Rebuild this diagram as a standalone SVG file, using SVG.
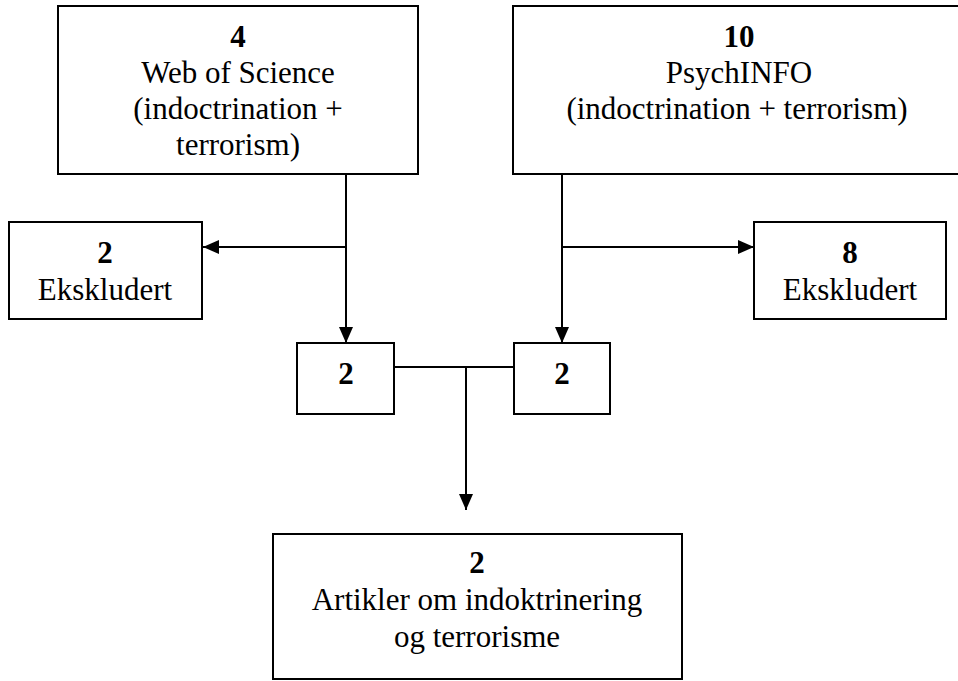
<svg xmlns="http://www.w3.org/2000/svg" width="958" height="681" viewBox="0 0 958 681" font-family="'Liberation Serif', 'Times New Roman', serif">
<defs>
<style>
.box{fill:#fff;stroke:#000;stroke-width:2}
.ln{fill:none;stroke:#000;stroke-width:2}
.t{font-family:'Liberation Serif','Times New Roman',serif;font-size:31px;fill:#000;text-anchor:middle}
.b{font-weight:bold}
</style>
<marker id="ah" markerWidth="16" markerHeight="14" refX="16" refY="7" orient="auto" markerUnits="userSpaceOnUse">
<path d="M0,0 L16,7 L0,14 Z" fill="#000"/>
</marker>
</defs>
<rect width="958" height="681" fill="#fff"/>
<g id="connectors">
<path class="ln" d="M346,174 V343" marker-end="url(#ah)"/>
<path class="ln" d="M346,247 H203" marker-end="url(#ah)"/>
<path class="ln" d="M562,174 V343" marker-end="url(#ah)"/>
<path class="ln" d="M562,247 H754" marker-end="url(#ah)"/>
<path class="ln" d="M394,367 H514"/>
<path class="ln" d="M466,367 V510" marker-end="url(#ah)"/>
</g>
<g id="wos">
<rect class="box" x="58" y="6" width="360" height="168"/>
<text class="t b" x="238" y="47">4</text>
<text class="t" x="238" y="83">Web of Science</text>
<text class="t" x="238" y="119">(indoctrination +</text>
<text class="t" x="238" y="155">terrorism)</text>
</g>
<g id="psychinfo">
<rect class="box" x="513" y="6" width="452" height="168"/>
<text class="t b" x="739" y="47">10</text>
<text class="t" x="739" y="83">PsychINFO</text>
<text class="t" x="737" y="119">(indoctrination + terrorism)</text>
</g>
<g id="excl-left">
<rect class="box" x="9" y="222" width="193" height="97"/>
<text class="t b" x="105" y="263">2</text>
<text class="t" x="105" y="300">Ekskludert</text>
</g>
<g id="excl-right">
<rect class="box" x="754" y="222" width="192" height="97"/>
<text class="t b" x="850" y="263">8</text>
<text class="t" x="850" y="300">Ekskludert</text>
</g>
<g id="left-2">
<rect class="box" x="297" y="343" width="97" height="71"/>
<text class="t b" x="346" y="384">2</text>
</g>
<g id="right-2">
<rect class="box" x="514" y="343" width="96" height="71"/>
<text class="t b" x="562" y="384">2</text>
</g>
<g id="result">
<rect class="box" x="273" y="534" width="409" height="145"/>
<text class="t b" x="477" y="573">2</text>
<text class="t" x="477" y="610">Artikler om indoktrinering</text>
<text class="t" x="477" y="647">og terrorisme</text>
</g>
</svg>
